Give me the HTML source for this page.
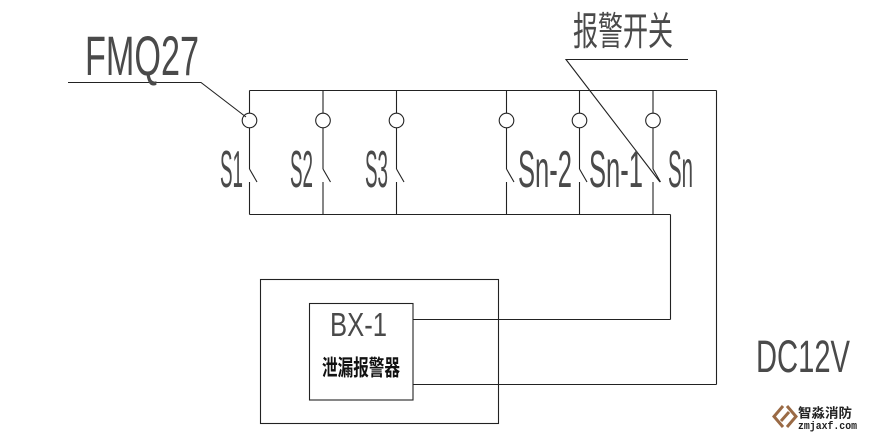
<!DOCTYPE html>
<html><head><meta charset="utf-8"><style>
html,body{margin:0;padding:0;background:#fff;}
svg{display:block;}
.t{font-family:"Liberation Sans","Noto Sans CJK SC",sans-serif;fill:#4a4a4a;}
.c{font-family:"Liberation Sans","Noto Sans CJK SC",sans-serif;fill:#111;}
</style></head><body>
<svg width="889" height="440" viewBox="0 0 889 440" xmlns="http://www.w3.org/2000/svg">
<g stroke="#222" stroke-width="1.1" fill="none">
<line x1="249.5" y1="90.5" x2="716.5" y2="90.5"/>
<line x1="249.5" y1="214.5" x2="670.5" y2="214.5"/>
<line x1="716.5" y1="90.5" x2="716.5" y2="384.5"/>
<line x1="413" y1="384.5" x2="716.5" y2="384.5"/>
<line x1="670.5" y1="214.5" x2="670.5" y2="319.5"/>
<line x1="413" y1="319.5" x2="670.5" y2="319.5"/>
<g id="sw">
<line x1="249.5" y1="90.5" x2="249.5" y2="113"/>
<circle cx="249.5" cy="120.5" r="7.3"/>
<line x1="249.5" y1="128" x2="249.5" y2="169"/>
<line x1="249.5" y1="169" x2="257" y2="182"/>
<line x1="249.5" y1="182" x2="249.5" y2="214.5"/>
</g>
<use href="#sw" transform="translate(73.5,0)"/>
<use href="#sw" transform="translate(147,0)"/>
<use href="#sw" transform="translate(257,0)"/>
<use href="#sw" transform="translate(330,0)"/>
<use href="#sw" transform="translate(403.5,0)"/>
<polyline points="68,82.5 201,82.5 246,117"/>
<polyline points="688,59.5 566,59.5 660,182"/>
<rect x="260.5" y="279.5" width="238" height="144"/>
<rect x="309.5" y="303.5" width="103.5" height="96.5"/>
</g>
<text class="t" x="85" y="75" font-size="56" textLength="114" lengthAdjust="spacingAndGlyphs">FMQ27</text>
<text class="t" x="220" y="187" font-size="52" textLength="23" lengthAdjust="spacingAndGlyphs">S1</text>
<text class="t" x="290" y="187" font-size="52" textLength="23" lengthAdjust="spacingAndGlyphs">S2</text>
<text class="t" x="365" y="187" font-size="52" textLength="23" lengthAdjust="spacingAndGlyphs">S3</text>
<text class="t" x="518" y="187" font-size="52" textLength="54" lengthAdjust="spacingAndGlyphs">Sn-2</text>
<text class="t" x="589" y="187" font-size="52" textLength="54" lengthAdjust="spacingAndGlyphs">Sn-1</text>
<text class="t" x="668" y="187" font-size="52" textLength="25" lengthAdjust="spacingAndGlyphs">Sn</text>
<text class="t" x="573" y="45" font-size="39" textLength="100" lengthAdjust="spacingAndGlyphs">报警开关</text>
<text class="t" x="330" y="336" font-size="33" textLength="57" lengthAdjust="spacingAndGlyphs">BX-1</text>
<text class="c" x="322" y="375.5" font-size="22" font-weight="bold" textLength="78" lengthAdjust="spacingAndGlyphs">泄漏报警器</text>
<text class="t" x="756" y="372" font-size="45" textLength="94" lengthAdjust="spacingAndGlyphs">DC12V</text>
<g fill="none" stroke="#9a6a45" stroke-width="3">
<polyline points="783,406 774,416.5 783,427"/>
<polyline points="787,406 796,416.5 787,427"/>
<line x1="781" y1="421" x2="789" y2="412"/>
</g>
<text x="798" y="417.5" font-size="13" font-weight="bold" fill="#222" font-family="'Liberation Sans','Noto Sans CJK SC',sans-serif" textLength="54" lengthAdjust="spacingAndGlyphs">智淼消防</text>
<text x="798" y="429" font-size="11" font-weight="bold" fill="#222" font-family="'Liberation Mono',monospace" textLength="59" lengthAdjust="spacingAndGlyphs">zmjaxf.com</text>
</svg>
</body></html>
